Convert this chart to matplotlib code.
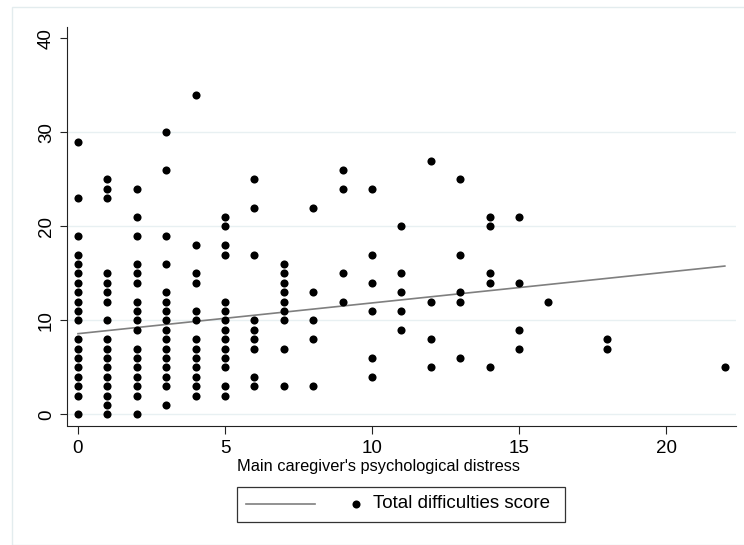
import matplotlib
matplotlib.use("Agg")
import matplotlib.pyplot as plt
from matplotlib.patches import Rectangle
from matplotlib.lines import Line2D
import numpy as np

plt.rcParams["font.family"] = ["Liberation Sans", "DejaVu Sans"]

# Main caregiver's psychological distress (x) and the total difficulties
# scores observed at each distress level (y)
distress_levels = [0, 1, 2, 3, 4, 5, 6, 7, 8, 9, 10, 11, 12, 13, 14, 15, 16, 18, 22]
difficulty_scores = [
    [29, 23, 19, 17, 16, 15, 14, 13, 12, 11, 10, 8, 7, 6, 5, 4, 3, 2, 0],
    [25, 24, 23, 15, 14, 13, 12, 10, 8, 7, 6, 5, 4, 3, 2, 1, 0],
    [24, 21, 19, 16, 15, 14, 12, 11, 10, 9, 7, 6, 5, 4, 3, 2, 0],
    [30, 26, 19, 16, 13, 12, 11, 10, 9, 8, 7, 6, 5, 4, 3, 1],
    [34, 18, 15, 14, 11, 10, 8, 7, 6, 5, 4, 3, 2],
    [21, 20, 18, 17, 12, 11, 10, 9, 8, 7, 6, 5, 3, 2],
    [25, 22, 17, 10, 9, 8, 7, 4, 3],
    [16, 15, 14, 13, 12, 11, 10, 7, 3],
    [22, 13, 10, 8, 3],
    [26, 24, 15, 12],
    [24, 17, 14, 11, 6, 4],
    [20, 15, 13, 11, 9],
    [27, 12, 8, 5],
    [25, 17, 13, 12, 6],
    [21, 20, 15, 14, 5],
    [21, 14, 9, 7],
    [12],
    [8, 7],
    [5],
]

# Linear fit of the difficulties score on distress
fit_intercept = 8.58
fit_slope = 0.327

x_ticks = [0, 5, 10, 15, 20]
y_ticks = [0, 10, 20, 30, 40]
x_label = "Main caregiver's psychological distress"
legend_label = "Total difficulties score"

W, H = 744, 545
fig = plt.figure(figsize=(W / 100, H / 100), dpi=100)
fig.patch.set_facecolor("white")


def px_box(x0, y0, x1, y1):
    """Figure-fraction rectangle from pixel corners (top-left origin)."""
    return [x0 / W, 1 - y1 / H, (x1 - x0) / W, (y1 - y0) / H]


# Outer graph-region outline
fig.patches.append(Rectangle((12.3 / W, 0), 2, 1 - 7.3 / H, transform=fig.transFigure,
                             fill=False, edgecolor="#e3ecee", linewidth=1.0, zorder=0))

ax = fig.add_axes(px_box(66.7, 26.7, 736, 425.5))
ax.set_facecolor("white")

xs = np.concatenate([[lvl] * len(ys) for lvl, ys in zip(distress_levels, difficulty_scores)])
ys = np.concatenate(difficulty_scores)

ax.scatter(xs, ys, s=34, color="black", linewidths=0, zorder=3)

fit_x = np.array([min(distress_levels), max(distress_levels)])
ax.plot(fit_x, fit_intercept + fit_slope * fit_x, color="#7f7f7f", linewidth=1.2, zorder=2)

ax.set_xlim(-0.384, 22.38)
ax.set_ylim(-1.19, 41.24)
ax.set_xticks(x_ticks)
ax.set_yticks(y_ticks)

for v in y_ticks[:-1]:
    ax.axhline(v, color="#e8f0f2", linewidth=1.0, zorder=1)

for side in ("top", "right"):
    ax.spines[side].set_visible(False)
for side in ("left", "bottom"):
    ax.spines[side].set_color("#222222")
    ax.spines[side].set_linewidth(0.8)

ax.tick_params(axis="both", direction="out", length=5.4, width=0.8, color="#222222",
               labelsize=13.5, labelcolor="black")
ax.tick_params(axis="x", pad=5)
ax.tick_params(axis="y", pad=3)
for lab in ax.get_yticklabels():
    lab.set_rotation(90)
    lab.set_va("center")
    lab.set_ha("right")

# Axis title, placed in figure pixels below the tick labels
fig.text(378.5 / W, 1 - 466 / H, x_label, fontsize=11.8, ha="center", va="center")

# Legend box with the fit line key and the scatter key
fig.patches.append(Rectangle((237 / W, 1 - 522 / H), (565 - 237) / W, (522 - 487) / H,
                             transform=fig.transFigure, fill=True, facecolor="white",
                             edgecolor="#333333", linewidth=0.9, zorder=5))
fig.lines.append(Line2D([246 / W, 315 / W], [1 - 504 / H, 1 - 504 / H], transform=fig.transFigure,
                        color="#7f7f7f", linewidth=1.2, zorder=6))
fig.lines.append(Line2D([356 / W], [1 - 504 / H], transform=fig.transFigure, marker="o",
                        markersize=5.8, markeredgewidth=0, color="black", zorder=6))
fig.text(373 / W, 1 - 504 / H, legend_label, fontsize=13.5, va="center", ha="left", zorder=6)

fig.savefig("out.png", dpi=100, facecolor="white")
